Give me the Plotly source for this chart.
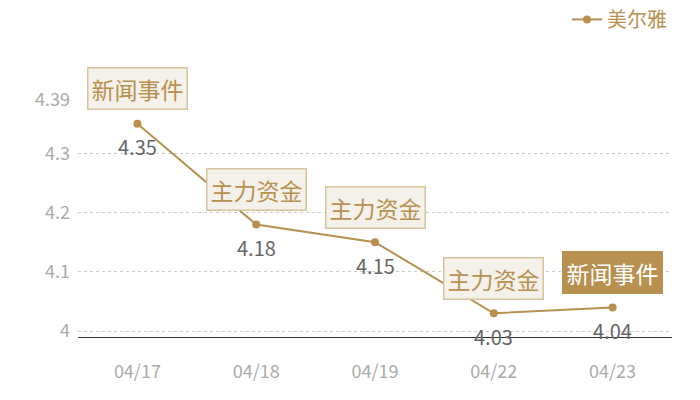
import plotly.graph_objects as go

dates = ["04/17", "04/18", "04/19", "04/22", "04/23"]
prices = [4.35, 4.18, 4.15, 4.03, 4.04]
events = ["新闻事件", "主力资金", "主力资金", "主力资金", "新闻事件"]
highlight = [False, False, False, False, True]
series_name = "美尔雅"
y_ticks = [4, 4.1, 4.2, 4.3, 4.39]
y_tick_text = ["4", "4.1", "4.2", "4.3", "4.39"]

GOLD = "#b8904f"
FONT = "Noto Sans CJK SC"

fig = go.Figure()
fig.add_trace(go.Scatter(
    x=dates, y=prices, mode="lines+markers", name=series_name,
    line=dict(color=GOLD, width=2),
    marker=dict(color=GOLD, size=8),
    cliponaxis=False,
))

annotations = []
for d, p, e, h in zip(dates, prices, events, highlight):
    annotations.append(dict(
        x=d, y=p, xref="x", yref="y", text=f"{p:.2f}", showarrow=False,
        yshift=-23, font=dict(family=FONT, size=20, color="#666666"),
    ))
    annotations.append(dict(
        x=d, y=p, xref="x", yref="y", text=e, showarrow=False,
        yshift=35,
        font=dict(family=FONT, size=23, color="#ffffff" if h else GOLD),
        bgcolor=GOLD if h else "#f4f0ea",
        bordercolor=GOLD if h else "#d9c39c",
        borderwidth=1.5, borderpad=3,
    ))

fig.update_layout(
    width=700, height=400,
    margin=dict(l=70, r=36, t=92, b=71, autoexpand=False),
    paper_bgcolor="white", plot_bgcolor="white",
    font=dict(family=FONT),
    showlegend=True,
    legend=dict(x=1, xanchor="right", y=1.34, yanchor="middle", yref="paper",
                font=dict(family=FONT, size=20, color=GOLD),
                bgcolor="rgba(0,0,0,0)", itemwidth=30),
    annotations=annotations,
    xaxis=dict(
        type="category", range=[-0.5, 4.5], showgrid=False,
        showline=True, linecolor="#333333", linewidth=1,
        ticks="", tickfont=dict(family=FONT, size=18, color="#aaaaaa"),
        ticklabelstandoff=18,
    ),
    yaxis=dict(
        range=[3.99, 4.39], tickvals=y_ticks, ticktext=y_tick_text,
        showgrid=True, gridcolor="#cccccc", griddash="dot", gridwidth=1,
        zeroline=False, showline=False, ticks="",
        tickfont=dict(family=FONT, size=18, color="#aaaaaa"),
        ticklabelstandoff=7,
    ),
)

fig.write_html("out.html")
